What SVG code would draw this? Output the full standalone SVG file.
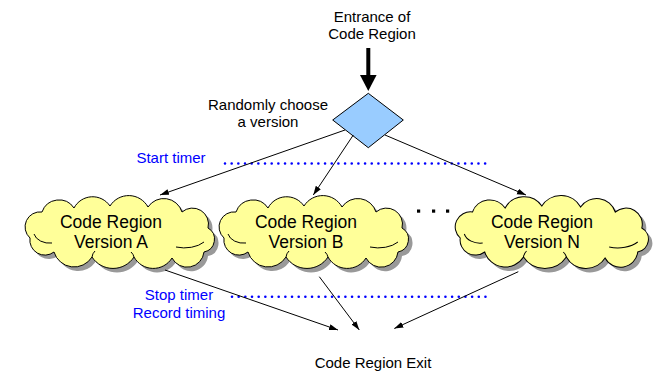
<svg xmlns="http://www.w3.org/2000/svg" xmlns:xlink="http://www.w3.org/1999/xlink" width="656" height="373" viewBox="0 0 656 373">
  <style>
    .lbl { font-family: "Liberation Sans", Arial, sans-serif; font-size: 15px; fill: #000; text-anchor: middle; }
    .timer { font-family: "Liberation Sans", Arial, sans-serif; font-size: 15px; fill: #0000ff; text-anchor: middle; }
    .cloudtxt { font-family: "Liberation Sans", Arial, sans-serif; font-size: 17.5px; fill: #000; text-anchor: middle; }
    .cloud { fill: #ffff99; stroke: #000; stroke-width: 1; }
    .shadow { fill: #999999; stroke: none; }
    .curl { fill: none; stroke: #000; stroke-width: 1; }
    .edge { fill: none; stroke: #000; stroke-width: 1; marker-end: url(#tip); }
    .dots { fill: none; stroke: #0000ff; stroke-width: 2.6; stroke-linecap: round; stroke-dasharray: 0 6.67; }
  </style>
  <defs>
    <marker id="tip" markerUnits="userSpaceOnUse" markerWidth="10" markerHeight="8" refX="9" refY="3" orient="auto">
      <path d="M0,0 L9,3 L0,6 Z" fill="#000"/>
    </marker>
    <!-- cloud outline centred on the origin, about 190 x 72 -->
    <path id="cloudShape" d="M -88,6
      A 15 15 0 0 1 -76,-20
      A 18 18 0 0 1 -44,-24
      A 21 21 0 0 1 -8,-26
      A 22 22 0 0 1 30,-25
      A 19 19 0 0 1 64,-20
      A 16 16 0 0 1 90,-4
      A 13 13 0 0 1 86,20
      A 17 17 0 0 1 54,26
      A 22 22 0 0 1 16,25
      A 25 25 0 0 1 -26,25
      A 21 21 0 0 1 -64,20
      A 15 15 0 0 1 -88,6 Z"/>
    <!-- small inner curls of the cloud -->
    <path id="cloudCurls" d="M -84,2 A 16 12 0 0 0 -66,11
      M 86,10 A 24 14 0 0 1 58,15
      M -26,25 A 10 10 0 0 1 -23,19
      M 16,25 A 12 10 0 0 0 13,20"/>
  </defs>

  <!-- entrance label and thick entry arrow -->
  <g id="entrance">
    <text class="lbl" x="372" y="22">Entrance of</text>
    <text class="lbl" x="372" y="39">Code Region</text>
    <line x1="368.3" y1="48" x2="368.3" y2="77" stroke="#000" stroke-width="4"/>
    <polygon points="360,75 376.6,75 368.3,91" fill="#000"/>
  </g>

  <!-- decision diamond -->
  <g id="choose">
    <polygon points="368.3,93.3 403.3,120 368.3,147.7 332.7,120" fill="#99ccff" stroke="#000" stroke-width="1"/>
    <text class="lbl" x="268" y="110">Randomly choose</text>
    <text class="lbl" x="268" y="127">a version</text>
  </g>

  <!-- timer annotations -->
  <g id="start-timer">
    <text class="timer" x="171" y="163">Start timer</text>
    <line class="dots" x1="225" y1="163.5" x2="490" y2="163.5"/>
  </g>
  <g id="stop-timer">
    <text class="timer" x="179" y="300">Stop timer</text>
    <text class="timer" x="179" y="318">Record timing</text>
    <line class="dots" x1="232" y1="296.7" x2="490" y2="296.7"/>
  </g>

  <!-- versions -->
  <g id="version-a">
    <use xlink:href="#cloudShape" class="shadow" transform="translate(122,236)"/>
    <use xlink:href="#cloudShape" class="cloud" transform="translate(118,232)"/>
    <use xlink:href="#cloudCurls" class="curl" transform="translate(118,232)"/>
    <text class="cloudtxt" x="111" y="228">Code Region</text>
    <text class="cloudtxt" x="111" y="248">Version A</text>
  </g>
  <g id="version-b">
    <use xlink:href="#cloudShape" class="shadow" transform="translate(316,236)"/>
    <use xlink:href="#cloudShape" class="cloud" transform="translate(312,232)"/>
    <use xlink:href="#cloudCurls" class="curl" transform="translate(312,232)"/>
    <text class="cloudtxt" x="306" y="228">Code Region</text>
    <text class="cloudtxt" x="306" y="248">Version B</text>
  </g>
  <g id="ellipsis">
    <rect x="417" y="209.5" width="3.2" height="3.2" fill="#000"/>
    <rect x="432" y="209.5" width="3.2" height="3.2" fill="#000"/>
    <rect x="446" y="209.5" width="3.2" height="3.2" fill="#000"/>
  </g>
  <g id="version-n">
    <use xlink:href="#cloudShape" class="shadow" transform="translate(554,236) scale(1.02,1)"/>
    <use xlink:href="#cloudShape" class="cloud" transform="translate(550,232) scale(1.02,1)"/>
    <use xlink:href="#cloudCurls" class="curl" transform="translate(550,232) scale(1.02,1)"/>
    <text class="cloudtxt" x="542" y="228">Code Region</text>
    <text class="cloudtxt" x="542" y="248">Version N</text>
  </g>

  <!-- exit label -->
  <g id="exit">
    <text class="lbl" x="373" y="368">Code Region Exit</text>
  </g>

  <!-- connectors -->
  <g id="connectors">
    <line class="edge" x1="345" y1="130" x2="160" y2="195"/>
    <line class="edge" x1="353.3" y1="135" x2="313.3" y2="195"/>
    <line class="edge" x1="385" y1="135" x2="526" y2="195"/>
    <line class="edge" x1="165" y1="270" x2="338" y2="330"/>
    <line class="edge" x1="319.3" y1="276.7" x2="359.3" y2="330"/>
    <line class="edge" x1="518.3" y1="271.7" x2="394.3" y2="328.5"/>
  </g>
</svg>
